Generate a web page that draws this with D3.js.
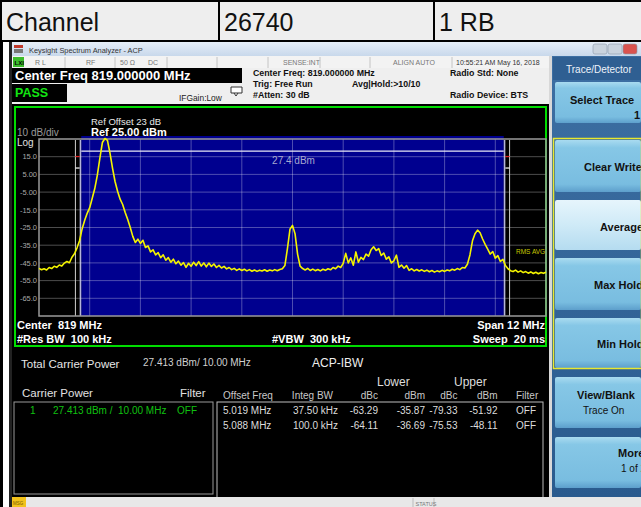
<!DOCTYPE html>
<html>
<head>
<meta charset="utf-8">
<script src="https://cdn.jsdelivr.net/npm/d3@7"></script>
<style>
  body { margin: 0; background: #fff; }
  svg { display: block; font-family: "Liberation Sans", Arial, sans-serif; }
  text { white-space: pre; }
</style>
</head>
<body>
<script>
"use strict";

// ---- data
const tableCells = ["Channel", "26740", "1 RB"];

const centerMHz = 819;
const spanMHz = 12;
const refLevel = 25;
const dbPerDiv = 10;
const yTickValues = [15, 5, -5, -15, -25, -35, -45, -55, -65];
const yTickLabels = ["15.0", "5.00", "-5.00", "-15.0", "-25.0", "-35.0", "-45.0", "-55.0", "-65.0"];

const channelBwMHz = 10;
const channelBarDbm = 18.2;
const totalPowerLabel = "27.4 dBm";
const offsetFreqMHz = [5.019, 5.088];
const offsetBwMHz = [0.0375, 0.1];
const limitMarksDbm = [15.1, 8.6];

// RMS average trace, 201 points from 813 MHz, 0.06 MHz apart
const traceStartMHz = 813;
const traceStepMHz = 0.06;
const traceDbm = [
    -48.1, -48.9, -48.3, -49.0, -47.6, -48.2, -46.9, -47.5, -46.2, -46.8,
    -45.1, -44.2, -44.9, -41.8, -39.8, -36.5, -32.5, -25.8, -21.0, -17.0,
    -13.8, -8.5, -3.0, 4.5, 14.0, 23.0, 25.3, 24.2, 17.0, 8.5,
    1.0, -4.5, -9.0, -12.0, -16.5, -20.5, -25.0, -30.0, -33.5, -31.6,
    -34.0, -32.2, -36.3, -35.4, -38.8, -37.6, -40.5, -39.2, -42.1, -40.4,
    -43.5, -42.0, -44.6, -42.9, -45.5, -44.0, -46.3, -44.8, -47.5, -45.2,
    -46.9, -44.6, -46.5, -44.3, -46.8, -45.0, -47.2, -45.1, -47.0, -45.6,
    -47.6, -46.4, -47.9, -47.0, -48.4, -47.6, -48.8, -48.1, -49.2, -48.4,
    -49.3, -48.6, -49.5, -48.8, -49.7, -49.0, -49.8, -49.1, -49.6, -48.9,
    -49.7, -49.0, -49.5, -48.8, -49.4, -48.7, -48.3, -46.5, -37.0, -26.0,
    -23.8, -28.5, -40.0, -46.8, -48.2, -49.0, -48.1, -49.3, -48.5, -49.4,
    -48.7, -49.5, -48.6, -49.2, -48.3, -48.9, -47.6, -48.3, -46.8, -47.6,
    -45.3, -39.6, -45.0, -42.2, -46.3, -38.8, -44.6, -41.9, -43.1, -40.0,
    -41.2, -37.6, -35.9, -38.0, -36.9, -40.8, -39.4, -42.9, -41.6, -45.0,
    -43.8, -40.6, -47.5, -46.2, -48.0, -46.5, -49.2, -48.3, -49.5, -48.7,
    -49.6, -48.9, -49.8, -49.1, -50.0, -49.3, -50.2, -49.5, -50.0, -49.2,
    -49.8, -49.0, -49.5, -48.6, -49.1, -48.2, -48.8, -47.6, -47.9, -45.8,
    -40.5, -32.5, -28.5, -26.5, -28.0, -31.5, -34.5, -37.2, -40.0, -38.6,
    -42.3, -40.9, -44.2, -43.0, -46.5, -48.3, -49.4, -49.9, -49.1, -50.2,
    -49.5, -50.5, -49.9, -50.8, -50.1, -51.0, -50.3, -51.1, -50.4, -50.9,
    -50.3
];

const statusItems = ["R L", "RF", "50 \u03a9", "DC", "SENSE:INT", "ALIGN AUTO", "10:55:21 AM May 16, 2018"];
const headerMid = ["Center Freq: 819.000000 MHz", "Trig: Free Run", "#Atten: 30 dB"];
const headerRight = ["Radio Std: None", "Radio Device: BTS"];

const carrierRow = ["1", "27.413 dBm /  10.00 MHz", "OFF"];
const acpHeader = ["Offset Freq", "Integ BW", "dBc", "dBm", "dBc", "dBm", "Filter"];
const acpOffsetLabels = ["5.019 MHz", "5.088 MHz"];
const acpIntegBw = ["37.50 kHz", "100.0 kHz"];
const lowerDbc = [-63.29, -64.11];
const lowerDbm = [-35.87, -36.69];
const upperDbc = [-79.33, -75.53];
const upperDbm = [-51.92, -48.11];
const acpFilter = ["OFF", "OFF"];

const softkeys = [
    ["Select Trace", "1"], ["Clear Write"], ["Average"], ["Max Hold"],
    ["Min Hold"], ["View/Blank", "Trace On"], ["More", "1 of 2"]
];

// ---- drawing
const W = 641, H = 507;
const svg = d3.select("body").append("svg").attr("width", W).attr("height", H);
const defs = svg.append("defs");

const addGrad = (id, stops) => {
    const g = defs.append("linearGradient").attr("id", id)
        .attr("x1", 0).attr("y1", 0).attr("x2", 0).attr("y2", 1);
    stops.forEach(s => g.append("stop").attr("offset", s[0]).attr("stop-color", s[1]));
};
addGrad("titleGrad", [[0, "#e6eef8"], [1, "#c8d8eb"]]);
addGrad("keyGrad", [[0, "#a9dbf0"], [0.15, "#86c7e6"], [0.85, "#79bde0"], [1, "#5d9fcc"]]);
addGrad("keyGradSel", [[0, "#e6f5fc"], [0.5, "#cfeaf7"], [1, "#b5dcf0"]]);
addGrad("stripGrad", [[0, "#3d6fa3"], [1, "#2a5b8e"]]);

const txt = (x, y, s, size, fill, opts = {}) => svg.append("text")
    .attr("x", x).attr("y", y)
    .attr("font-size", size)
    .attr("fill", fill)
    .attr("font-weight", opts.bold ? "bold" : null)
    .attr("text-anchor", opts.anchor || "start")
    .text(s);

// top table
svg.append("rect").attr("x", 0).attr("y", 0).attr("width", W).attr("height", 41).attr("fill", "#eeeeee");
const cellX = [0, 218, 433];
tableCells.forEach((t, i) => txt(cellX[i] + 6, 31, t, 25, "#111"));
[[0, 1, W, 1], [0, 41, W, 41]].forEach(l => svg.append("line")
    .attr("x1", l[0]).attr("y1", l[1]).attr("x2", l[2]).attr("y2", l[3])
    .attr("stroke", "#000").attr("stroke-width", 2));
cellX.forEach(cx => svg.append("line")
    .attr("x1", cx + 1).attr("y1", 0).attr("x2", cx + 1).attr("y2", 41)
    .attr("stroke", "#000").attr("stroke-width", 2));

// window frame
svg.append("rect").attr("x", 0).attr("y", 41).attr("width", 3).attr("height", H - 41).attr("fill", "#000");
svg.append("rect").attr("x", 9).attr("y", 42).attr("width", 3).attr("height", H - 42).attr("fill", "#222");

// title bar
svg.append("rect").attr("x", 12).attr("y", 42).attr("width", W - 12).attr("height", 14).attr("fill", "url(#titleGrad)");
svg.append("rect").attr("x", 14).attr("y", 45).attr("width", 9).attr("height", 3).attr("fill", "#c0392b");
svg.append("rect").attr("x", 14).attr("y", 49).attr("width", 9).attr("height", 4).attr("fill", "#777");
txt(29, 53, "Keysight Spectrum Analyzer - ACP", 7.4, "#333");
[[593, "#c9d3de"], [608, "#c9d3de"], [623, "#d9534f"]].forEach(b => svg.append("rect")
    .attr("x", b[0]).attr("y", 44).attr("width", 14).attr("height", 10).attr("rx", 2)
    .attr("fill", b[1]).attr("stroke", "#8a99aa").attr("stroke-width", 0.6));

// status row
svg.append("rect").attr("x", 12).attr("y", 56).attr("width", 540).attr("height", 12).attr("fill", "#f3f3f3");
svg.append("rect").attr("x", 13).attr("y", 57).attr("width", 11).attr("height", 10).attr("fill", "#3cbc2c");
txt(14.5, 65, "LXI", 6, "#000", { bold: true });
const statusX = [35, 86, 120, 148, 283, 393, 456];
statusItems.forEach((s, i) => txt(statusX[i], 65.3, s, 7, i === 6 ? "#333" : "#777"));
[65, 115, 167, 217, 268, 320, 370, 452, 551].forEach(dx => svg.append("line")
    .attr("x1", dx).attr("y1", 57).attr("x2", dx).attr("y2", 68).attr("stroke", "#c4c4c4"));

// header area
svg.append("rect").attr("x", 12).attr("y", 68).attr("width", 540).attr("height", 37).attr("fill", "#efefef");
svg.append("rect").attr("x", 12).attr("y", 68).attr("width", 230).attr("height", 15).attr("fill", "#000");
txt(15, 79.7, "Center Freq 819.000000 MHz", 13, "#fff", { bold: true });
svg.append("rect").attr("x", 12).attr("y", 84).attr("width", 55).attr("height", 18).attr("fill", "#000");
txt(15, 97, "PASS", 12.5, "#12e412", { bold: true });
txt(179, 101, "IFGain:Low", 8.4, "#222");
svg.append("path").attr("d", "M231,87 h11 v6 h-11 z M234,93 l2,3 l2,-3")
    .attr("fill", "#fff").attr("stroke", "#333").attr("stroke-width", 1);
headerMid.forEach((s, i) => txt(253, [76, 86.5, 98.3][i], s, 8.8, "#111", { bold: true }));
txt(352, 86.5, "Avg|Hold:>10/10", 8.8, "#111", { bold: true });
headerRight.forEach((s, i) => txt(450, [76, 98.3][i], s, 8.8, "#111", { bold: true }));

// black measurement panel
svg.append("rect").attr("x", 12).attr("y", 104).attr("width", 537).attr("height", 393).attr("fill", "#000");
svg.append("rect").attr("x", 549).attr("y", 56).attr("width", 3).attr("height", 441).attr("fill", "#d8d8d8");
svg.append("rect").attr("x", 15).attr("y", 107).attr("width", 531).attr("height", 239)
    .attr("fill", "none").attr("stroke", "#00dd00").attr("stroke-width", 2);

// scales
const x = d3.scaleLinear()
    .domain([centerMHz - spanMHz / 2, centerMHz + spanMHz / 2])
    .range([39, 546]);
const y = d3.scaleLinear()
    .domain([refLevel - 10 * dbPerDiv, refLevel])
    .range([316, 139]);

// integration channel (blue) and offset brackets
const chLo = centerMHz - channelBwMHz / 2, chHi = centerMHz + channelBwMHz / 2;
svg.append("rect")
    .attr("x", x(chLo)).attr("y", y(refLevel) - 3)
    .attr("width", x(chHi) - x(chLo)).attr("height", y(refLevel - 10 * dbPerDiv) - y(refLevel) + 3)
    .attr("fill", "#00008f");

const g = svg.append("g");

// graticule
d3.range(1, 10).forEach(i => {
    const f = x.domain()[0] + i * spanMHz / 10;
    g.append("line").attr("x1", x(f)).attr("x2", x(f)).attr("y1", y.range()[1]).attr("y2", y.range()[0])
        .attr("stroke", "#fff").attr("stroke-opacity", 0.3).attr("stroke-width", 1);
});
d3.range(1, 10).forEach(i => {
    const d = refLevel - i * dbPerDiv;
    g.append("line").attr("x1", x.range()[0]).attr("x2", x.range()[1]).attr("y1", y(d)).attr("y2", y(d))
        .attr("stroke", "#fff").attr("stroke-opacity", 0.3).attr("stroke-width", 1);
});

offsetFreqMHz.forEach((off, k) => {
    [-1, 1].forEach(side => {
        const a = centerMHz + side * (off - offsetBwMHz[k] / 2);
        const b = centerMHz + side * (off + offsetBwMHz[k] / 2);
        const x0 = Math.min(x(a), x(b)), x1 = Math.max(x(a), x(b));
        if (k === 0) {
            g.append("rect").attr("x", x0).attr("y", y.range()[1] + 1)
                .attr("width", Math.max(x1 - x0, 1.5)).attr("height", y.range()[0] - y.range()[1] - 1)
                .attr("fill", "#d4d4ff").attr("fill-opacity", 0.85);
        } else {
            const outer = side < 0 ? x0 : x1;
            g.append("line").attr("x1", outer).attr("x2", outer)
                .attr("y1", y.range()[1] + 1).attr("y2", y.range()[0])
                .attr("stroke", "#cfcfcf").attr("stroke-width", 1);
            limitMarksDbm.forEach((m, j) => g.append("line")
                .attr("x1", x0).attr("x2", x1).attr("y1", y(m)).attr("y2", y(m))
                .attr("stroke", j === 0 ? "#e02020" : "#ffffff").attr("stroke-width", 1.2));
        }
    });
});

// graticule border
g.append("rect")
    .attr("x", x.range()[0]).attr("y", y.range()[1])
    .attr("width", x.range()[1] - x.range()[0]).attr("height", y.range()[0] - y.range()[1])
    .attr("fill", "none").attr("stroke", "#9a9a9a").attr("stroke-width", 1.5);

// channel power bar and label
g.append("line").attr("x1", x(chLo)).attr("x2", x(chHi)).attr("y1", y(channelBarDbm)).attr("y2", y(channelBarDbm))
    .attr("stroke", "#e8e8f4").attr("stroke-width", 1.2);
txt(x(centerMHz) + 1, 164, totalPowerLabel, 10, "#a8a8d0", { anchor: "middle" });

// y tick labels
yTickValues.forEach((v, i) => txt(37, y(v) + 2.7, yTickLabels[i], 7.5, "#a8a8a8", { anchor: "end" }));

// trace
const line = d3.line()
    .x((d, i) => x(traceStartMHz + i * traceStepMHz))
    .y(d => y(d));
svg.append("path")
    .datum(traceDbm)
    .attr("d", line)
    .attr("fill", "none")
    .attr("stroke", "#f4f400")
    .attr("stroke-width", 1.6)
    .attr("stroke-linejoin", "round");

txt(516, 254, "RMS AVG", 6.5, "#c8c800");

// plot annotations
txt(17, 136, "10 dB/div", 10, "#9a9a9a");
txt(17, 146, "Log", 10, "#e0e0e0");
txt(91, 124.5, "Ref Offset 23 dB", 9.5, "#e8e8e8");
txt(91, 135.7, "Ref 25.00 dBm", 11, "#fff", { bold: true });
txt(17, 329, "Center  819 MHz", 11, "#fff", { bold: true });
txt(17, 342.5, "#Res BW  100 kHz", 11, "#fff", { bold: true });
txt(272, 342.5, "#VBW  300 kHz", 11, "#fff", { bold: true });
txt(545, 329, "Span 12 MHz", 11, "#fff", { bold: true, anchor: "end" });
txt(545, 342.5, "Sweep  20 ms", 11, "#fff", { bold: true, anchor: "end" });

// bottom result tables
txt(21, 367.5, "Total Carrier Power", 11.5, "#e6e6e6");
txt(143, 365.6, "27.413 dBm/ 10.00 MHz", 10, "#d0d0d0");
txt(312, 367.3, "ACP-IBW", 12, "#eeeeee");
txt(377, 386, "Lower", 12, "#dddddd");
txt(454, 386, "Upper", 12, "#dddddd");
txt(22, 397, "Carrier Power", 11.5, "#e0e0e0");
txt(180, 397, "Filter", 11.5, "#e0e0e0");

svg.append("rect").attr("x", 14).attr("y", 402).attr("width", 199).attr("height", 92)
    .attr("fill", "none").attr("stroke", "#9a9a9a").attr("stroke-width", 1);
svg.append("rect").attr("x", 217).attr("y", 402).attr("width", 326).attr("height", 97)
    .attr("fill", "none").attr("stroke", "#bdbdbd").attr("stroke-width", 1);

txt(30, 413.5, carrierRow[0], 10, "#10c010");
txt(53, 413.5, carrierRow[1], 10, "#10c010");
txt(177, 413.5, carrierRow[2], 10, "#10c010");

// ACP columns: anchor and x
const acpColX = [223, 338, 378, 425, 457.5, 497.5, 516];
const acpColAnchor = ["start", "end", "end", "end", "end", "end", "start"];
acpHeader.forEach((h, i) => txt(acpColX[i] - (i === 1 ? 5 : 0), 398.5, h, 10, "#c8c8c8", { anchor: acpColAnchor[i] }));
acpOffsetLabels.forEach((lab, r) => {
    const yy = 413.5 + r * 15.3;
    const row = [lab, acpIntegBw[r], lowerDbc[r].toFixed(2), lowerDbm[r].toFixed(2),
        upperDbc[r].toFixed(2), upperDbm[r].toFixed(2), acpFilter[r]];
    row.forEach((v, i) => txt(acpColX[i], yy, v, 10, "#dcdcdc", { anchor: acpColAnchor[i] }));
});

// bottom status bar
svg.append("rect").attr("x", 12).attr("y", 497).attr("width", W - 12).attr("height", 10).attr("fill", "#e8e8e8");
svg.append("rect").attr("x", 12).attr("y", 497).attr("width", 14).attr("height", 10).attr("fill", "#f2c21b");
txt(13, 505, "MSG", 4.5, "#7a5a00");
[413, 434].forEach(dx => svg.append("line").attr("x1", dx).attr("x2", dx).attr("y1", 498).attr("y2", 507).attr("stroke", "#bbb"));
txt(415.5, 505.5, "STATUS", 5.5, "#777");

// softkey panel
svg.append("rect").attr("x", 552).attr("y", 56).attr("width", W - 552).attr("height", 441).attr("fill", "url(#stripGrad)");
svg.append("rect").attr("x", 553).attr("y", 57).attr("width", W - 553).attr("height", 23).attr("fill", "#2f5f92");
txt(566, 72.5, "Trace/Detector", 10, "#eef4fa");

const keyTop = [82, 140, 200, 258, 318, 377, 437];
const keyH = [41, 52, 50, 52, 50, 51, 51];
const keyLabelX = [570, 584, 600, 594, 597, 577, 618];
const keyLabelY = [104, 171, 231, 289, 348, 399, 457];
const keySubX = [634, 0, 0, 0, 0, 583, 621];
softkeys.forEach((k, i) => {
    svg.append("rect").attr("x", 555).attr("y", keyTop[i]).attr("width", W - 555).attr("height", keyH[i])
        .attr("rx", 2)
        .attr("fill", i === 2 ? "url(#keyGradSel)" : "url(#keyGrad)");
    txt(keyLabelX[i], keyLabelY[i], k[0], 11, "#111", { bold: true });
    if (k[1]) txt(keySubX[i], keyLabelY[i] + 14.5, k[1], i === 0 ? 11 : 10, "#111", { bold: i === 0 });
});
svg.append("rect").attr("x", 553.5).attr("y", 138.5).attr("width", W - 553).attr("height", 230)
    .attr("fill", "none").attr("stroke", "#e8e830").attr("stroke-width", 1.5);
</script>
</body>
</html>
